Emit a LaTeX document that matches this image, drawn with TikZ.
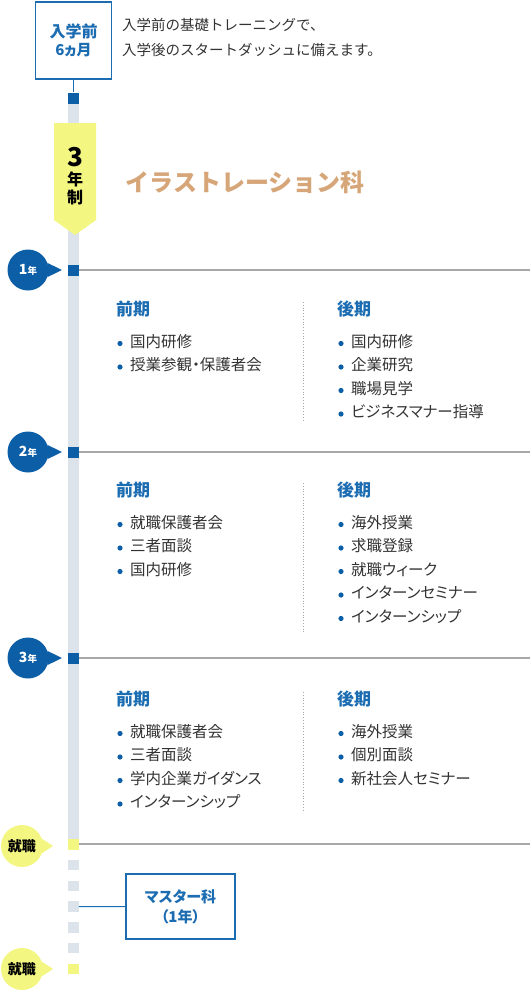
\documentclass[tikz,border=0pt]{standalone}
\usepackage{fontspec}
\setmainfont{Noto Sans CJK JP}
\newfontfamily\paltfont{Noto Sans CJK JP}[RawFeature=+palt]
\usetikzlibrary{calc}

\definecolor{deepblue}{RGB}{12,94,166}
\definecolor{headblue}{RGB}{28,108,178}
\definecolor{tan}{RGB}{214,165,120}
\definecolor{lemon}{RGB}{244,246,130}
\definecolor{bargray}{RGB}{221,227,234}
\definecolor{rulegray}{RGB}{168,168,168}
\definecolor{ink}{RGB}{51,51,51}

\newcommand*{\barx}{73.5}
\newcommand*{\rightx}{530}
\newcommand*{\splitx}{303}

% semester block: name, x, y, heading, items
\newcommand*{\term}[5]{%
  \node[termhead] (#1) at (#2,#3) {#4};
  \foreach \txt [count=\i] in {#5} {
    \node[termitem] (#1-\i) at ($(#2,#3)+(14,8+\i*23.5)$) {\txt};
    \fill[deepblue] ($(#1-\i.west)+(-10,0)$) circle (2.6);
  }
}

\begin{document}
\begin{tikzpicture}
[
	x=1pt, y=-1pt,
	marker/.style={rectangle,fill=deepblue,inner sep=0pt,minimum size=11pt},
	jobmarker/.style={marker,fill=lemon},
	barseg/.style={rectangle,fill=bargray,inner sep=0pt,minimum size=10.5pt},
	rule/.style={rulegray,line width=1.2pt},
	split/.style={rulegray,dotted,line width=0.8pt},
	yearcirc/.style={circle,fill=deepblue,text=white,inner sep=0pt,minimum size=41pt,font=\bfseries},
	jobcirc/.style={circle,fill=lemon,text=black,inner sep=0pt,minimum size=42pt,font=\bfseries\fontsize{14}{14}\selectfont},
	bluebox/.style={rectangle,draw=headblue,line width=1.2pt,fill=white,align=center,text=headblue,font=\paltfont\bfseries\fontsize{16}{20}\selectfont},
	termhead/.style={anchor=west,text=headblue,inner sep=0pt,text height=0.8em,text depth=0.1em,font=\paltfont\bfseries\fontsize{17}{17}\selectfont},
	termitem/.style={anchor=west,text=ink,inner sep=0pt,text height=0.8em,text depth=0.1em,font=\paltfont\fontsize{15.5}{15.5}\selectfont},
	note/.style={anchor=west,text=ink,inner sep=0pt,text height=0.8em,text depth=0.1em,font=\fontsize{14.5}{14.5}\selectfont}
]
	\useasboundingbox (0,0) rectangle (530,996);

	% timeline bar
	\fill[bargray] (68,103) rectangle (79,839);

	% before entry
	\node[bluebox,minimum width=76pt,minimum height=77pt] (prebox) at (\barx,40.5)
	  {入学前\\[-2pt]{\fontsize{15}{15}\selectfont 6ヵ月}};
	\node[marker] (m0) at (\barx,98) {};
	\draw[headblue,line width=1pt] (prebox.south) -- (m0.north);
	\node[note] (pre1) at (122,27) {入学前の基礎トレーニングで、};
	\node[note] (pre2) at (122,52) {入学後のスタートダッシュに備えます。};

	% course badge
	\fill[lemon] (54,123) -- (96,123) -- (96,220) -- (75,235) -- (54,220) -- cycle;
	\node[font=\bfseries\fontsize{26}{26}\selectfont] (yrs) at (75,157) {3};
	\node[font=\bfseries\fontsize{16}{16}\selectfont] (nen) at (75,179) {年};
	\node[font=\bfseries\fontsize{16}{16}\selectfont] (sei) at (75,197) {制};
	\node[anchor=west,text=tan,font=\bfseries\fontsize{24}{24}\selectfont] (course) at (122,182)
	  {イラストレーション科};

	% year markers
	\foreach \n/\y in {1/270,2/452,3/658} {
		\node[marker] (m\n) at (\barx,\y) {};
		\coordinate (r\n) at (\rightx,\y);
		\draw[rule] (m\n.east) -- (r\n);
		\node[yearcirc] (c\n) at (28,\y) {{\fontsize{14}{14}\selectfont\n}{\fontsize{9.5}{10}\selectfont 年}};
		\coordinate (t\n) at (62,\y);
		\fill[deepblue] (c\n.20) -- (t\n) -- (c\n.-20) -- cycle;
	}

	% job markers
	\node[jobmarker] (j1) at (\barx,844) {};
	\coordinate (r4) at (\rightx,844);
	\draw[rule] (j1.east) -- (r4);
	\node[jobcirc] (jc1) at (22,846) {就職};
	\coordinate (jt1) at (53,846);
	\fill[lemon] (jc1.20) -- (jt1) -- (jc1.-20) -- cycle;

	\foreach \i in {1,...,5}
		\node[barseg] (d\i) at (\barx,865+\i*20.8-20.8) {};
	\node[jobmarker,minimum size=10.5pt] (j2) at (\barx,969) {};
	\node[jobcirc] (jc2) at (22,969) {就職};
	\coordinate (jt2) at (53,969);
	\fill[lemon] (jc2.20) -- (jt2) -- (jc2.-20) -- cycle;

	% master course
	\node[bluebox,minimum width=109pt,minimum height=65pt,font=\paltfont\bfseries\fontsize{15}{20}\selectfont] (master) at (180.5,906.5)
	  {マスター科\\（1年）};
	\draw[headblue,line width=1pt] (d3.east) -- (master.west);

	% first year
	\term{y1a}{116}{312}{前期}{国内研修,授業参観・保護者会}
	\term{y1b}{337}{312}{後期}{国内研修,企業研究,職場見学,ビジネスマナー指導}
	\draw[split] (\splitx,302) -- (\splitx,420);

	% second year
	\term{y2a}{116}{493}{前期}{就職保護者会,三者面談,国内研修}
	\term{y2b}{337}{493}{後期}{海外授業,求職登録,就職ウィーク,インターンセミナー,インターンシップ}
	\draw[split] (\splitx,483) -- (\splitx,632);

	% third year
	\term{y3a}{116}{702}{前期}{就職保護者会,三者面談,学内企業ガイダンス,インターンシップ}
	\term{y3b}{337}{702}{後期}{海外授業,個別面談,新社会人セミナー}
	\draw[split] (\splitx,692) -- (\splitx,810);

\end{tikzpicture}
\end{document}
